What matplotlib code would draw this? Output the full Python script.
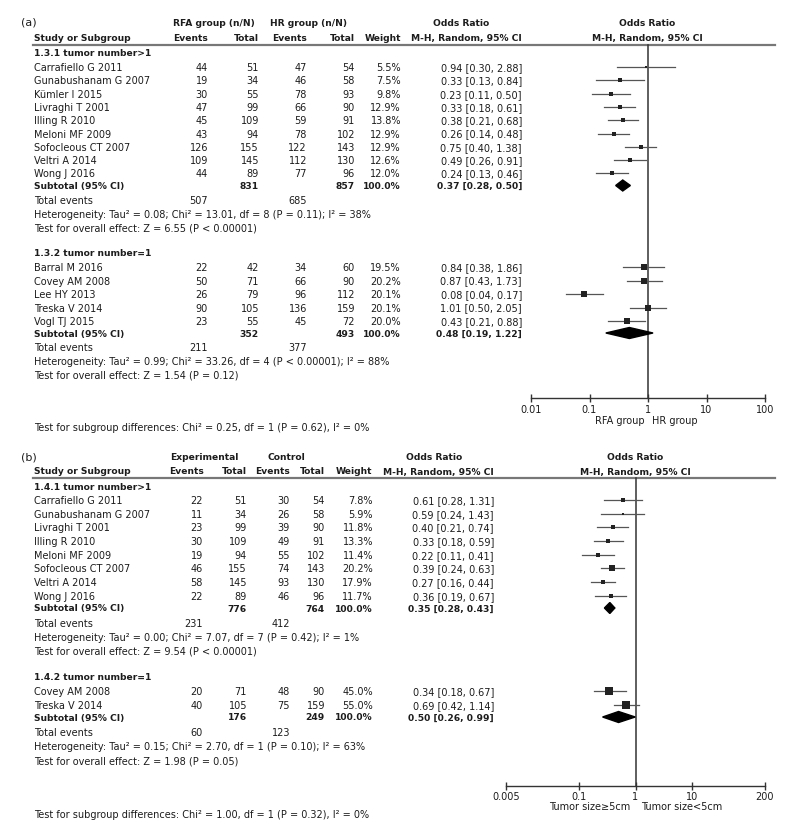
import matplotlib
matplotlib.use('Agg')
import matplotlib.pyplot as plt
from matplotlib.ticker import NullLocator, FixedLocator, FixedFormatter
from matplotlib.patches import Polygon

W, H = 793, 829

# ---------------- data: panel (a) ----------------
a_head1 = ["RFA group (n/N)", "HR group (n/N)"]
a1_title = "1.3.1 tumor number>1"
a1_study = ["Carrafiello G 2011", "Gunabushanam G 2007", "Kümler I 2015", "Livraghi T 2001",
            "Illing R 2010", "Meloni MF 2009", "Sofocleous CT 2007", "Veltri A 2014", "Wong J 2016"]
a1_ev1 = [44, 19, 30, 47, 45, 43, 126, 109, 44]
a1_tot1 = [51, 34, 55, 99, 109, 94, 155, 145, 89]
a1_ev2 = [47, 46, 78, 66, 59, 78, 122, 112, 77]
a1_tot2 = [54, 58, 93, 90, 91, 102, 143, 130, 96]
a1_w = [5.5, 7.5, 9.8, 12.9, 13.8, 12.9, 12.9, 12.6, 12.0]
a1_or = [0.94, 0.33, 0.23, 0.33, 0.38, 0.26, 0.75, 0.49, 0.24]
a1_lo = [0.30, 0.13, 0.11, 0.18, 0.21, 0.14, 0.40, 0.26, 0.13]
a1_hi = [2.88, 0.84, 0.50, 0.61, 0.68, 0.48, 1.38, 0.91, 0.46]
a1_subtot = [831, 857]
a1_subor = [0.37, 0.28, 0.50]
a1_events = [507, 685]
a1_het = "Heterogeneity: Tau² = 0.08; Chi² = 13.01, df = 8 (P = 0.11); I² = 38%"
a1_test = "Test for overall effect: Z = 6.55 (P < 0.00001)"

a2_title = "1.3.2 tumor number=1"
a2_study = ["Barral M 2016", "Covey AM 2008", "Lee HY 2013", "Treska V 2014", "Vogl TJ 2015"]
a2_ev1 = [22, 50, 26, 90, 23]
a2_tot1 = [42, 71, 79, 105, 55]
a2_ev2 = [34, 66, 96, 136, 45]
a2_tot2 = [60, 90, 112, 159, 72]
a2_w = [19.5, 20.2, 20.1, 20.1, 20.0]
a2_or = [0.84, 0.87, 0.08, 1.01, 0.43]
a2_lo = [0.38, 0.43, 0.04, 0.50, 0.21]
a2_hi = [1.86, 1.73, 0.17, 2.05, 0.88]
a2_subtot = [352, 493]
a2_subor = [0.48, 0.19, 1.22]
a2_events = [211, 377]
a2_het = "Heterogeneity: Tau² = 0.99; Chi² = 33.26, df = 4 (P < 0.00001); I² = 88%"
a2_test = "Test for overall effect: Z = 1.54 (P = 0.12)"
a_diff = "Test for subgroup differences: Chi² = 0.25, df = 1 (P = 0.62), I² = 0%"
a_ticks = [0.01, 0.1, 1, 10, 100]
a_ticklabels = ["0.01", "0.1", "1", "10", "100"]
a_favours = ["RFA group", "HR group"]

# ---------------- data: panel (b) ----------------
b_head1 = ["Experimental", "Control"]
b1_title = "1.4.1 tumor number>1"
b1_study = ["Carrafiello G 2011", "Gunabushanam G 2007", "Livraghi T 2001", "Illing R 2010",
            "Meloni MF 2009", "Sofocleous CT 2007", "Veltri A 2014", "Wong J 2016"]
b1_ev1 = [22, 11, 23, 30, 19, 46, 58, 22]
b1_tot1 = [51, 34, 99, 109, 94, 155, 145, 89]
b1_ev2 = [30, 26, 39, 49, 55, 74, 93, 46]
b1_tot2 = [54, 58, 90, 91, 102, 143, 130, 96]
b1_w = [7.8, 5.9, 11.8, 13.3, 11.4, 20.2, 17.9, 11.7]
b1_or = [0.61, 0.59, 0.40, 0.33, 0.22, 0.39, 0.27, 0.36]
b1_lo = [0.28, 0.24, 0.21, 0.18, 0.11, 0.24, 0.16, 0.19]
b1_hi = [1.31, 1.43, 0.74, 0.59, 0.41, 0.63, 0.44, 0.67]
b1_subtot = [776, 764]
b1_subor = [0.35, 0.28, 0.43]
b1_events = [231, 412]
b1_het = "Heterogeneity: Tau² = 0.00; Chi² = 7.07, df = 7 (P = 0.42); I² = 1%"
b1_test = "Test for overall effect: Z = 9.54 (P < 0.00001)"

b2_title = "1.4.2 tumor number=1"
b2_study = ["Covey AM 2008", "Treska V 2014"]
b2_ev1 = [20, 40]
b2_tot1 = [71, 105]
b2_ev2 = [48, 75]
b2_tot2 = [90, 159]
b2_w = [45.0, 55.0]
b2_or = [0.34, 0.69]
b2_lo = [0.18, 0.42]
b2_hi = [0.67, 1.14]
b2_subtot = [176, 249]
b2_subor = [0.50, 0.26, 0.99]
b2_events = [60, 123]
b2_het = "Heterogeneity: Tau² = 0.15; Chi² = 2.70, df = 1 (P = 0.10); I² = 63%"
b2_test = "Test for overall effect: Z = 1.98 (P = 0.05)"
b_diff = "Test for subgroup differences: Chi² = 1.00, df = 1 (P = 0.32), I² = 0%"
b_ticks = [0.005, 0.1, 1, 10, 200]
b_ticklabels = ["0.005", "0.1", "1", "10", "200"]
b_favours = ["Tumor size≥5cm", "Tumor size<5cm"]

# ---------------- figure ----------------
plt.rcParams['font.family'] = ['DejaVu Sans']
fig = plt.figure(figsize=(W / 100, H / 100), dpi=100)
bg = fig.add_axes([0, 0, 1, 1])
bg.set_xlim(0, W)
bg.set_ylim(H, 0)
bg.axis('off')

TXT = '#1c1c1c'
FS = 7.0
FSB = 6.6
XNAME = 34


def t(x, y, s, ha='left', bold=False):
    bg.text(x, y, s, ha=ha, va='center', fontsize=FSB if bold else FS,
            fontweight='bold' if bold else 'normal', color=TXT)


def make_forest_ax(x0, x1, ytop, ybot, xlim, ticks, labels, pad):
    ax = fig.add_axes([x0 / W, 1 - ybot / H, (x1 - x0) / W, (ybot - ytop) / H])
    ax.set_xscale('log')
    ax.set_xlim(*xlim)
    ax.set_ylim(ybot, ytop)
    ax.patch.set_alpha(0)
    for s in ['top', 'left', 'right']:
        ax.spines[s].set_visible(False)
    ax.spines['bottom'].set_color('#333333')
    ax.spines['bottom'].set_linewidth(1.0)
    ax.set_yticks([])
    ax.xaxis.set_minor_locator(NullLocator())
    ax.xaxis.set_major_locator(FixedLocator(ticks))
    ax.xaxis.set_major_formatter(FixedFormatter(labels))
    ax.tick_params(axis='x', direction='inout', length=6, width=1.0, color='#333333',
                   labelsize=FS, pad=pad, labelcolor=TXT)
    ax.plot([1, 1], [ytop, ybot], color='#333333', lw=1.1, zorder=1, clip_on=False)
    return ax


def draw_group(ax, cols, ytitle, ys, ysub, yev, yhet, ytest, title, study, ev1, tot1, ev2, tot2,
               w, orr, lo, hi, subtot, subor, events, het, test):
    t(XNAME, ytitle, title, bold=True)
    for i in range(len(study)):
        y = ys[i]
        t(XNAME, y, study[i])
        t(cols['ev1'], y, str(ev1[i]), ha='right')
        t(cols['tot1'], y, str(tot1[i]), ha='right')
        t(cols['ev2'], y, str(ev2[i]), ha='right')
        t(cols['tot2'], y, str(tot2[i]), ha='right')
        t(cols['w'], y, f"{w[i]:.1f}%", ha='right')
        t(cols['or'], y, f"{orr[i]:.2f} [{lo[i]:.2f}, {hi[i]:.2f}]", ha='right')
        ax.plot([lo[i], hi[i]], [y, y], color='#555555', lw=0.9, zorder=2)
        side_px = 1.15 * w[i] ** 0.5
        ax.plot([orr[i]], [y], marker='s', ms=side_px * 0.72, color='#222222', mew=0, zorder=3)
    t(XNAME, ysub, "Subtotal (95% CI)", bold=True)
    t(cols['tot1'], ysub, str(subtot[0]), ha='right', bold=True)
    t(cols['tot2'], ysub, str(subtot[1]), ha='right', bold=True)
    t(cols['w'], ysub, "100.0%", ha='right', bold=True)
    t(cols['or'], ysub, f"{subor[0]:.2f} [{subor[1]:.2f}, {subor[2]:.2f}]", ha='right', bold=True)
    hh = 5.5
    ax.add_patch(Polygon([(subor[1], ysub), (subor[0], ysub - hh), (subor[2], ysub),
                          (subor[0], ysub + hh)], closed=True, color='black', zorder=3))
    t(XNAME, yev, "Total events")
    t(cols['ev1'], yev, str(events[0]), ha='right')
    t(cols['ev2'], yev, str(events[1]), ha='right')
    t(XNAME, yhet, het)
    t(XNAME, ytest, test)


def rows(y0, step, n):
    return [y0 + step * i for i in range(n)]


# ---------------- panel (a) ----------------
cols_a = dict(ev1=208, tot1=259, ev2=307, tot2=355, w=401)
cols_a['or'] = 522
bg.text(21, 22, "(a)", fontsize=8, ha='left', va='center', color=TXT)
t(214, 23, a_head1[0], ha='center', bold=True)
t(308, 23, a_head1[1], ha='center', bold=True)
t(461, 23, "Odds Ratio", ha='center', bold=True)
t(647, 23, "Odds Ratio", ha='center', bold=True)
t(XNAME, 38, "Study or Subgroup", bold=True)
t(208, 38, "Events", ha='right', bold=True)
t(259, 38, "Total", ha='right', bold=True)
t(307, 38, "Events", ha='right', bold=True)
t(355, 38, "Total", ha='right', bold=True)
t(401, 38, "Weight", ha='right', bold=True)
t(522, 38, "M-H, Random, 95% CI", ha='right', bold=True)
t(647, 38, "M-H, Random, 95% CI", ha='center', bold=True)
bg.plot([33, 775], [46, 46], color='#777777', lw=1.6)

axa = make_forest_ax(531, 765, 46, 399, (0.01, 100), a_ticks, a_ticklabels, 1.2)
draw_group(axa, cols_a, 53, rows(68, 13.3, 9), 186.5, 201, 215, 228, a1_title, a1_study,
           a1_ev1, a1_tot1, a1_ev2, a1_tot2, a1_w, a1_or, a1_lo, a1_hi, a1_subtot, a1_subor,
           a1_events, a1_het, a1_test)
draw_group(axa, cols_a, 253, rows(268, 13.5, 5), 334, 348, 362, 375, a2_title, a2_study,
           a2_ev1, a2_tot1, a2_ev2, a2_tot2, a2_w, a2_or, a2_lo, a2_hi, a2_subtot, a2_subor,
           a2_events, a2_het, a2_test)
t(645, 421, a_favours[0], ha='right')
t(652, 421, a_favours[1], ha='left')
t(XNAME, 428, a_diff)

# ---------------- panel (b) ----------------
cols_b = dict(ev1=203, tot1=247, ev2=290, tot2=325, w=373)
cols_b['or'] = 494
bg.text(21, 457, "(b)", fontsize=8, ha='left', va='center', color=TXT)
t(204, 458, b_head1[0], ha='center', bold=True)
t(286, 458, b_head1[1], ha='center', bold=True)
t(434, 458, "Odds Ratio", ha='center', bold=True)
t(635, 458, "Odds Ratio", ha='center', bold=True)
t(XNAME, 472, "Study or Subgroup", bold=True)
t(204, 472, "Events", ha='right', bold=True)
t(247, 472, "Total", ha='right', bold=True)
t(290, 472, "Events", ha='right', bold=True)
t(325, 472, "Total", ha='right', bold=True)
t(372, 472, "Weight", ha='right', bold=True)
t(494, 472, "M-H, Random, 95% CI", ha='right', bold=True)
t(635, 472, "M-H, Random, 95% CI", ha='center', bold=True)
bg.plot([33, 775], [479, 479], color='#777777', lw=1.6)

axb = make_forest_ax(506, 765, 479, 787, (0.005, 200), b_ticks, b_ticklabels, 0.3)
draw_group(axb, cols_b, 487, rows(501, 13.67, 8), 609, 624, 638, 652, b1_title, b1_study,
           b1_ev1, b1_tot1, b1_ev2, b1_tot2, b1_w, b1_or, b1_lo, b1_hi, b1_subtot, b1_subor,
           b1_events, b1_het, b1_test)
draw_group(axb, cols_b, 677, rows(692, 14, 2), 718, 733, 747, 761, b2_title, b2_study,
           b2_ev1, b2_tot1, b2_ev2, b2_tot2, b2_w, b2_or, b2_lo, b2_hi, b2_subtot, b2_subor,
           b2_events, b2_het, b2_test)
t(630, 807.5, b_favours[0], ha='right')
t(641, 807.5, b_favours[1], ha='left')
t(XNAME, 815, b_diff)

fig.savefig('out.png', dpi=100)
